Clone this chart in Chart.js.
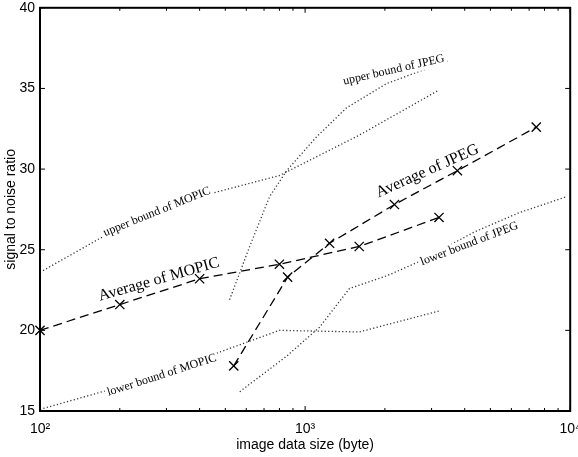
<!DOCTYPE html>
<html>
<head>
<meta charset="utf-8">
<script src="https://cdn.jsdelivr.net/npm/chart.js@4.4.0/dist/chart.umd.min.js"></script>
<style>
  html, body { margin: 0; padding: 0; background: #fff; }
  #wrap { width: 578px; height: 457px; }
</style>
</head>
<body>
<div id="wrap"><canvas id="snrChart"></canvas></div>
<script>
// image data size (byte) and signal to noise ratio
const mopicSize = [100, 200, 400, 800, 1600, 3200];
const mopicAvg = [20.0, 21.6, 23.2, 24.1, 25.2, 27.0];
const mopicUpper = [23.6, 26.4, 28.3, 29.6, 32.1, 34.9];
const mopicLower = [15.1, 16.5, 18.2, 20.0, 19.9, 21.2];

const jpegSize = [538, 859, 1237, 2173, 3753, 7448];
const jpegAvg = [17.8, 23.3, 25.4, 27.8, 29.9, 32.6];

const jpegUpperSize = [519, 618, 735, 852, 1105, 1433, 2028, 3441];
const jpegUpper = [21.9, 25.2, 28.3, 29.9, 32.0, 33.8, 35.3, 36.7];

const jpegLowerSize = [567, 852, 1134, 1471, 2045, 2723, 4349, 6427, 9743];
const jpegLower = [16.2, 18.4, 20.2, 22.6, 23.4, 24.3, 26.1, 27.3, 28.3];

// axis ticks
const xMajorTicks = [100, 1000, 10000];
const xTickLabels = ["10²", "10³", "10⁴"];
const xMinorTicks = [200, 300, 400, 500, 600, 700, 800, 900, 2000, 3000, 4000, 5000, 6000, 7000, 8000, 9000];
const yTicks = [15, 20, 25, 30, 35, 40];

// curve labels (text, where it sits in data units)
const labelText = ["upper bound of MOPIC", "Average of MOPIC", "lower bound of MOPIC", "upper bound of JPEG", "Average of JPEG", "lower bound of JPEG"];
const labelSize = [276, 281, 288, 2160, 2893, 4165];
const labelSnr = [27.35, 23.15, 17.22, 36.15, 29.88, 25.37];

function pts(xs, ys) {
  return xs.map((x, i) => ({ x, y: ys[i] }));
}

const avgStyle = {
  showLine: true,
  borderColor: "#000",
  borderWidth: 1.3,
  borderDash: [9, 5],
  pointStyle: "crossRot",
  pointRadius: 6.5,
  pointBorderWidth: 1.3,
  pointBorderColor: "#000",
  clip: false
};

const boundStyle = {
  showLine: true,
  borderColor: "#333",
  borderWidth: 1.3,
  borderDash: [1.2, 2.3],
  pointRadius: 0
};

// box, inward ticks and rotated curve labels
const framePlugin = {
  id: "frame",
  afterDraw(chart) {
    const { ctx, chartArea: a, scales: { x, y } } = chart;
    ctx.save();
    ctx.strokeStyle = "#000";
    ctx.lineWidth = 1;
    ctx.beginPath();
    yTicks.forEach(v => {
      const py = y.getPixelForValue(v);
      ctx.moveTo(a.left, py); ctx.lineTo(a.left + 5, py);
      ctx.moveTo(a.right, py); ctx.lineTo(a.right - 5, py);
    });
    xMajorTicks.forEach(v => {
      const px = x.getPixelForValue(v);
      ctx.moveTo(px, a.bottom); ctx.lineTo(px, a.bottom - 5);
      ctx.moveTo(px, a.top); ctx.lineTo(px, a.top + 5);
    });
    xMinorTicks.forEach(v => {
      const px = x.getPixelForValue(v);
      ctx.moveTo(px, a.bottom); ctx.lineTo(px, a.bottom - 3);
      ctx.moveTo(px, a.top); ctx.lineTo(px, a.top + 3);
    });
    ctx.stroke();

    ctx.lineWidth = 2;
    ctx.strokeRect(a.left, a.top, a.right - a.left, a.bottom - a.top);

    const angles = [-22, -16, -18, -13, -24, -21];
    const sizes = [12, 16, 12, 12, 16, 12];
    const masked = [true, false, true, true, false, true];
    ctx.textAlign = "center";
    ctx.textBaseline = "middle";
    labelText.forEach((t, i) => {
      ctx.save();
      ctx.translate(x.getPixelForValue(labelSize[i]), y.getPixelForValue(labelSnr[i]));
      ctx.rotate(angles[i] * Math.PI / 180);
      ctx.font = sizes[i] + "px 'Liberation Serif', serif";
      if (masked[i]) {
        const w = ctx.measureText(t).width;
        ctx.fillStyle = "#fff";
        ctx.fillRect(-w / 2 - 2, -6, w + 4, 13);
      }
      ctx.fillStyle = "#000";
      ctx.fillText(t, 0, 0);
      ctx.restore();
    });
    ctx.restore();
  }
};

const axisFont = { family: "'Liberation Sans', 'DejaVu Sans', sans-serif", size: 14 };

new Chart(document.getElementById("snrChart"), {
  type: "scatter",
  data: {
    datasets: [
      { ...avgStyle, label: "Average of MOPIC", data: pts(mopicSize, mopicAvg) },
      { ...avgStyle, label: "Average of JPEG", data: pts(jpegSize, jpegAvg) },
      { ...boundStyle, label: "upper bound of MOPIC", data: pts(mopicSize, mopicUpper) },
      { ...boundStyle, label: "lower bound of MOPIC", data: pts(mopicSize, mopicLower) },
      { ...boundStyle, label: "upper bound of JPEG", data: pts(jpegUpperSize, jpegUpper) },
      { ...boundStyle, label: "lower bound of JPEG", data: pts(jpegLowerSize, jpegLower) }
    ]
  },
  options: {
    responsive: true,
    maintainAspectRatio: false,
    animation: false,
    layout: { padding: { top: 7, right: 7, left: 0, bottom: 0 } },
    plugins: {
      legend: { display: false },
      tooltip: { enabled: false }
    },
    scales: {
      x: {
        type: "logarithmic",
        min: 100,
        max: 10000,
        grid: { display: false, drawTicks: false },
        border: { display: false },
        afterBuildTicks: s => { s.ticks = xMajorTicks.map(v => ({ value: v })); },
        afterFit: s => { s.height = 46; s.paddingLeft = 0; s.paddingRight = 0; },
        ticks: {
          autoSkip: false,
          maxRotation: 0,
          padding: 10,
          color: "#000",
          font: axisFont,
          callback: v => xTickLabels[xMajorTicks.indexOf(v)] || ""
        },
        title: { display: true, text: "image data size (byte)", color: "#000", font: axisFont, padding: { top: 0, bottom: 3 } }
      },
      y: {
        min: 15,
        max: 40,
        grid: { display: false, drawTicks: false },
        border: { display: false },
        afterBuildTicks: s => { s.ticks = yTicks.map(v => ({ value: v })); },
        afterFit: s => { s.width = 40; s.paddingTop = 0; s.paddingBottom = 0; },
        ticks: { padding: 5, color: "#000", font: axisFont },
        title: { display: true, text: "signal to noise ratio", color: "#000", font: axisFont, padding: { top: 3, bottom: 0 } }
      }
    }
  },
  plugins: [framePlugin]
});
</script>
</body>
</html>
